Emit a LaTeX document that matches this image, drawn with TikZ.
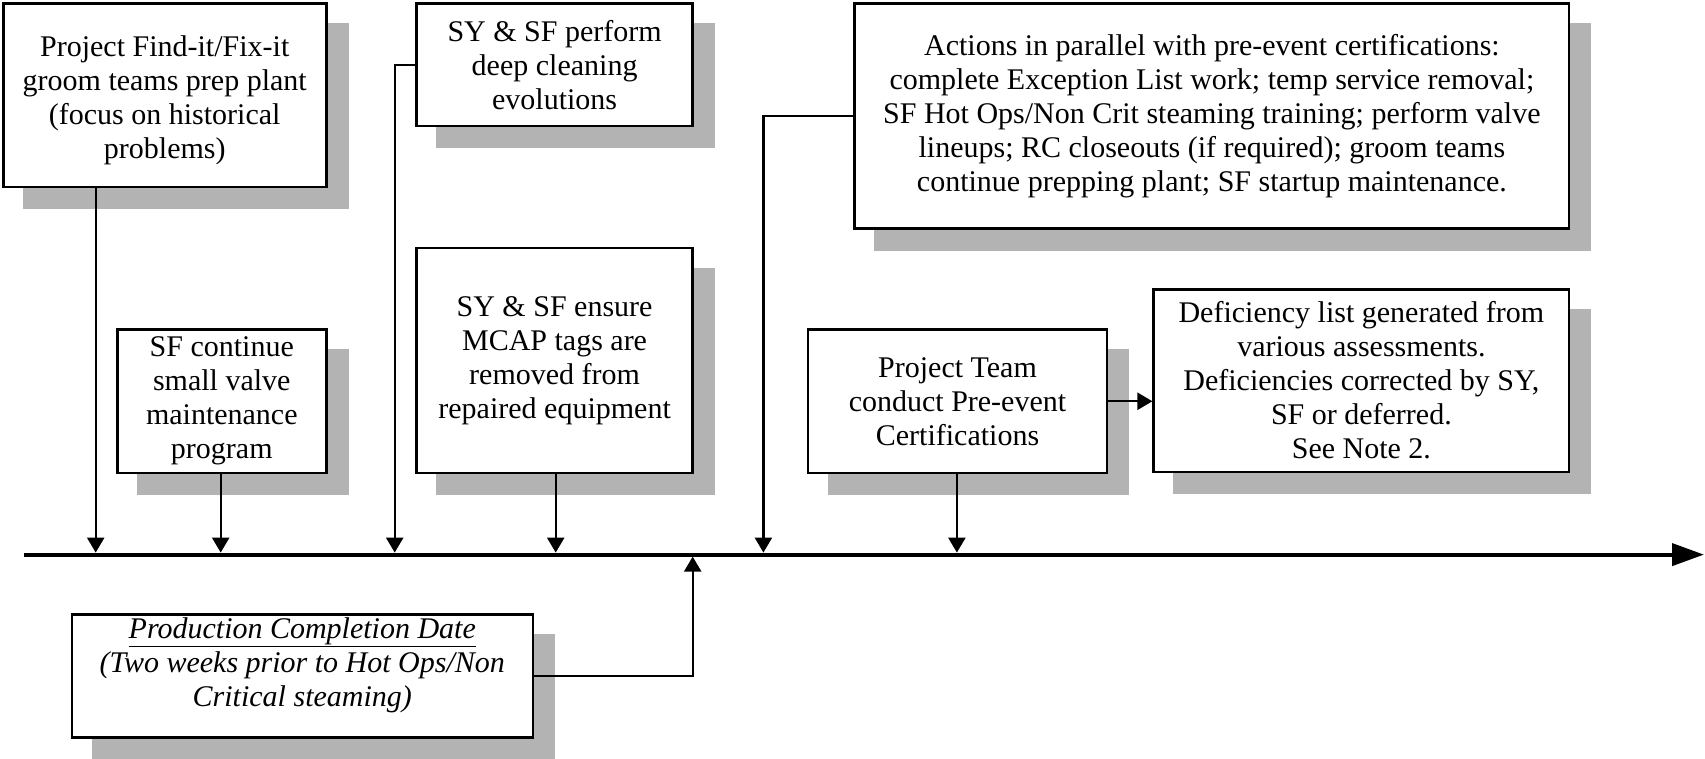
\documentclass[tikz,border=0pt]{standalone}
\usepackage{fontspec}
\setmainfont{Liberation Serif}
\usetikzlibrary{arrows.meta,fit,backgrounds}
\definecolor{shadowc}{RGB}{179,179,179}
\tikzset{
  boxst/.style={draw=black, line width=2.6pt, fill=white, inner sep=0pt},
  txt/.style={align=center, inner sep=0pt, font=\fontsize{30}{34}\selectfont},
  conn/.style={draw=black, line width=2.4pt, -{Triangle[length=15pt,width=17pt]}},
  axisline/.style={draw=black, line width=4pt, -{Triangle[length=32pt,width=22pt]}},
  shadowfill/.style={fill=shadowc}
}
\newcommand\mkbox[6]{%
  \path (#2,#3) coordinate (#1nw) (#4,#5) coordinate (#1se);
  \node[boxst, fit=(#1nw)(#1se)] (#1) {};
}
\newcommand\mkshadow[1]{%
  \fill[shadowfill] ([xshift=21pt,yshift=-21pt]#1.south west) rectangle ([xshift=21pt,yshift=-21pt]#1.north east);
}
\begin{document}
\begin{tikzpicture}[x=1pt,y=-1pt]
\useasboundingbox (0,0) rectangle (1705,758);
% boxes
\mkbox{A}{3.3}{3.3}{326.2}{187.0}{}
\mkbox{B}{416.5}{3.3}{692.7}{126.1}{}
\mkbox{C}{854.7}{3.3}{1569.1}{228.4}{}
\mkbox{D}{117.4}{329.5}{326.2}{473.0}{}
\mkbox{E}{416.5}{247.9}{692.7}{473.0}{}
\mkbox{F}{808.0}{329.5}{1107.0}{473.0}{}
\mkbox{G}{1153.7}{289.3}{1569.1}{471.9}{}
\mkbox{H}{71.8}{614.4}{532.8}{737.3}{}
% texts
\node[txt] (At) at ([yshift=-5pt]A.center) {Project Find-it/Fix-it\\groom teams prep plant\\(focus on historical\\problems)};
\node[txt] (Bt) at (B.center) {SY \& SF perform\\deep cleaning\\evolutions};
\node[txt] (Ct) at (C.center) {Actions in parallel with pre-event certifications:\\complete Exception List work; temp service removal;\\SF Hot Ops/Non Crit steaming training; perform valve\\lineups; RC closeouts (if required); groom teams\\continue prepping plant; SF startup maintenance.};
\node[txt] (Dt) at (D.center) {SF continue\\small valve\\maintenance\\program};
\node[txt] (Et) at (E.center) {SY \& SF ensure\\MCAP tags are\\removed from\\repaired equipment};
\node[txt] (Ft) at (F.center) {Project Team\\conduct Pre-event\\Certifications};
\node[txt] (Gt) at (G.center) {Deficiency list generated from\\various assessments.\\Deficiencies corrected by SY,\\SF or deferred.\\See Note 2.};
\node[txt, font=\fontsize{30}{34}\selectfont\itshape] (Ht) at ([yshift=11pt]H.center) {\underline{Production Completion Date}\\(Two weeks prior to Hot Ops/Non\\Critical steaming)};
% shadows
\begin{scope}[on background layer]
\mkshadow{A}\mkshadow{B}\mkshadow{C}\mkshadow{D}\mkshadow{E}\mkshadow{F}\mkshadow{G}\mkshadow{H}
\end{scope}
% axis
\coordinate (axL) at (23.9,554.6);
\coordinate (axR) at (1704,554.6);
\draw[axisline] (axL) -- (axR);
% targets on axis
\coordinate (tA) at (95.7,552.6);
\coordinate (tD) at (220.7,552.6);
\coordinate (tB) at (394.7,552.6);
\coordinate (tE) at (555.7,552.6);
\coordinate (tC) at (763.4,552.6);
\coordinate (tF) at (956.9,552.6);
\coordinate (tH) at (692.7,556.6);
% connectors
\draw[conn] (A.south -| tA) -- (tA);
\draw[conn] (D.south -| tD) -- (tD);
\draw[conn] (B.west) -| (tB);
\draw[conn] (E.south -| tE) -- (tE);
\draw[conn] (C.west) -| (tC);
\draw[conn] (F.south -| tF) -- (tF);
\draw[conn] (F.east) -- (F.east -| G.west);
\draw[conn] (H.east) -| (tH);
\end{tikzpicture}
\end{document}
